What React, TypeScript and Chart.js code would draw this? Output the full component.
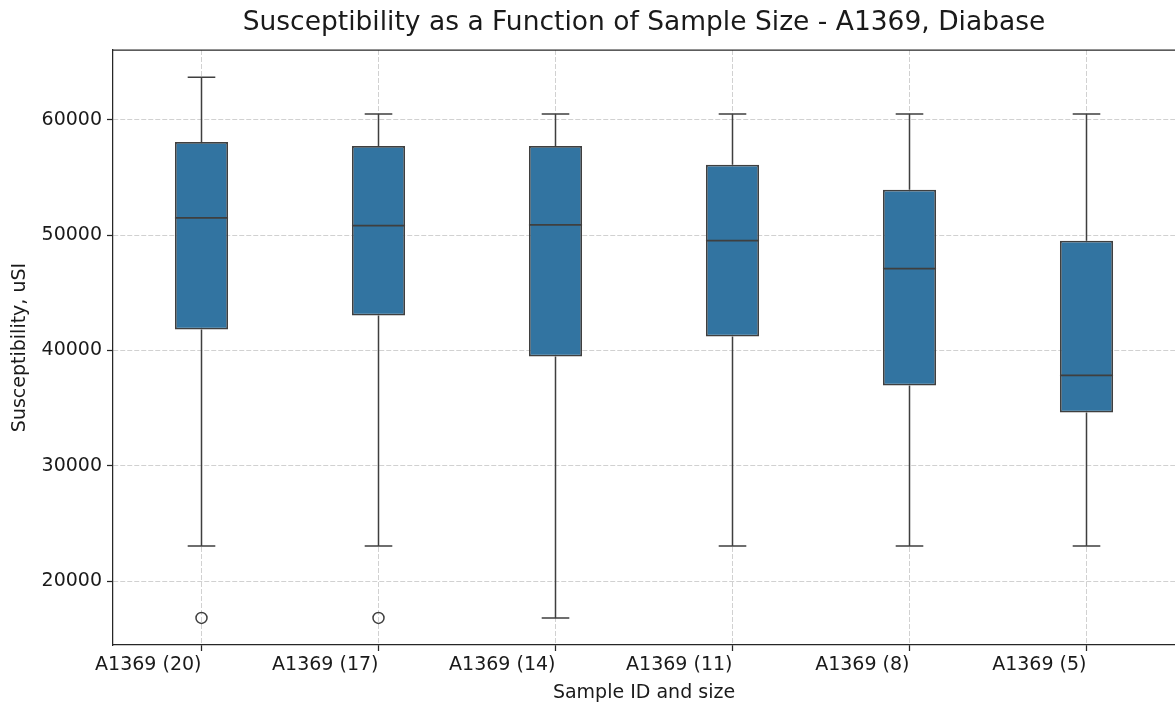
import React, { useEffect, useRef } from 'react';
import { Chart, registerables } from 'chart.js';

Chart.register(...registerables);

const categories = ['A1369 (20)', 'A1369 (17)', 'A1369 (14)', 'A1369 (11)', 'A1369 (8)', 'A1369 (5)'];
const q1 = [41818, 43030, 39481, 41212, 36970, 34630];
const q3 = [58095, 57749, 57749, 56104, 53939, 49524];
const medians = [51515, 50823, 50909, 49524, 47100, 37835];
const whiskerLow = [23030, 23030, 16797, 23030, 23030, 23030];
const whiskerHigh = [63700, 60519, 60519, 60519, 60519, 60519];
const outliers = [16797, 16797, null, null, null, null];
const yTicks = [20000, 30000, 40000, 50000, 60000];
const yMin = 14450;
const yMax = 66070;

const chartTitle = 'Susceptibility as a Function of Sample Size - A1369, Diabase';
const xTitle = 'Sample ID and size';
const yTitle = 'Susceptibility, uSI';

const FONT = "'DejaVu Sans', sans-serif";
const LINE = '#3f3f3f';
const AXIS = '#262626';
const GRID = 'rgba(190,190,190,0.7)';
const TEXT = '#1a1a1a';
const BOX = '#3274a1';

export default function App() {
  const ref = useRef<HTMLCanvasElement>(null);

  useEffect(() => {
    const canvas = ref.current;
    if (!canvas) return;

    const boxParts = {
      id: 'boxParts',
      beforeDatasetsDraw(chart: any) {
        const { ctx } = chart;
        const y = chart.scales.y;
        const meta = chart.getDatasetMeta(0);
        ctx.save();
        ctx.strokeStyle = LINE;
        ctx.lineWidth = 1.5;
        meta.data.forEach((bar: any, i: number) => {
          const x = bar.x;
          const half = bar.width * 0.26;
          const yLo = y.getPixelForValue(whiskerLow[i]);
          const yHi = y.getPixelForValue(whiskerHigh[i]);
          const yQ1 = y.getPixelForValue(q1[i]);
          const yQ3 = y.getPixelForValue(q3[i]);
          ctx.beginPath();
          ctx.moveTo(x, yQ1);
          ctx.lineTo(x, yLo);
          ctx.moveTo(x, yQ3);
          ctx.lineTo(x, yHi);
          ctx.moveTo(x - half, yLo);
          ctx.lineTo(x + half, yLo);
          ctx.moveTo(x - half, yHi);
          ctx.lineTo(x + half, yHi);
          ctx.stroke();
        });
        ctx.restore();
      },
      afterDatasetsDraw(chart: any) {
        const { ctx } = chart;
        const y = chart.scales.y;
        const meta = chart.getDatasetMeta(0);
        ctx.save();
        ctx.strokeStyle = LINE;
        ctx.lineWidth = 1.75;
        meta.data.forEach((bar: any, i: number) => {
          const x = bar.x;
          const half = bar.width / 2;
          const yM = y.getPixelForValue(medians[i]);
          ctx.beginPath();
          ctx.moveTo(x - half, yM);
          ctx.lineTo(x + half, yM);
          ctx.stroke();
        });
        ctx.restore();
      },
      afterDraw(chart: any) {
        const { ctx, chartArea } = chart;
        ctx.save();
        ctx.strokeStyle = AXIS;
        ctx.lineWidth = 1.25;
        ctx.beginPath();
        ctx.moveTo(chartArea.left, chartArea.top);
        ctx.lineTo(chartArea.right, chartArea.top);
        ctx.stroke();
        ctx.fillStyle = TEXT;
        ctx.font = `26.5px ${FONT}`;
        ctx.textAlign = 'center';
        ctx.textBaseline = 'middle';
        ctx.fillText(chartTitle, (chartArea.left + chartArea.right) / 2, 23);
        ctx.restore();
      },
    };

    const chart = new Chart(canvas, {
      type: 'bar',
      data: {
        labels: categories,
        datasets: [
          {
            type: 'bar',
            data: categories.map((_, i) => [q1[i], q3[i]]),
            backgroundColor: BOX,
            borderColor: LINE,
            borderWidth: 1.75,
            borderSkipped: false,
            barPercentage: 0.3,
            categoryPercentage: 1,
          } as any,
          {
            type: 'line',
            data: outliers,
            showLine: false,
            pointRadius: 5.5,
            pointHoverRadius: 5.5,
            pointBorderWidth: 1.5,
            pointBorderColor: LINE,
            pointBackgroundColor: 'rgba(255,255,255,0)',
          } as any,
        ],
      },
      options: {
        responsive: false,
        animation: false,
        layout: { autoPadding: false, padding: { top: 50, left: 0, right: 0, bottom: 0 } },
        plugins: {
          legend: { display: false },
          tooltip: { enabled: false },
          title: { display: false },
        },
        scales: {
          x: {
            type: 'category',
            offset: true,
            grid: {
              offset: false,
              color: GRID,
              lineWidth: 1,
              drawTicks: true,
              tickLength: 6,
              tickColor: AXIS,
              tickWidth: 1.25,
              tickBorderDash: [],
            },
            border: { display: true, color: AXIS, width: 1.25, dash: [5, 2] },
            ticks: {
              font: { family: FONT, size: 19 },
              color: TEXT,
              padding: 3,
              maxRotation: 0,
              autoSkip: false,
              align: 'end',
            },
            title: {
              display: true,
              text: xTitle,
              font: { family: FONT, size: 19 },
              color: TEXT,
              padding: { top: 0, bottom: 0 },
            },
            afterFit: (s: any) => {
              s.height = 59;
              s.paddingLeft = 0;
              s.paddingRight = 0;
            },
          },
          y: {
            type: 'linear',
            min: yMin,
            max: yMax,
            afterBuildTicks: (s: any) => {
              s.ticks = yTicks.map((v) => ({ value: v }));
            },
            grid: {
              color: GRID,
              lineWidth: 1,
              drawTicks: true,
              tickLength: 6,
              tickColor: AXIS,
              tickWidth: 1.25,
              tickBorderDash: [],
            },
            border: { display: true, color: AXIS, width: 1.25, dash: [5, 2] },
            ticks: {
              font: { family: FONT, size: 19 },
              color: TEXT,
              padding: 5,
              callback: (v: any) => String(v),
            },
            title: {
              display: true,
              text: yTitle,
              font: { family: FONT, size: 19 },
              color: TEXT,
              padding: { top: 9, bottom: 0 },
            },
            afterFit: (s: any) => {
              s.width = 113;
              s.paddingTop = 0;
              s.paddingBottom = 0;
            },
          },
        },
      } as any,
      plugins: [boxParts],
    });

    return () => chart.destroy();
  }, []);

  return (
    <canvas
      ref={ref}
      width={1175}
      height={704}
      style={{ position: 'fixed', left: 0, top: 0, display: 'block', width: 1175, height: 704 }}
    />
  );
}
